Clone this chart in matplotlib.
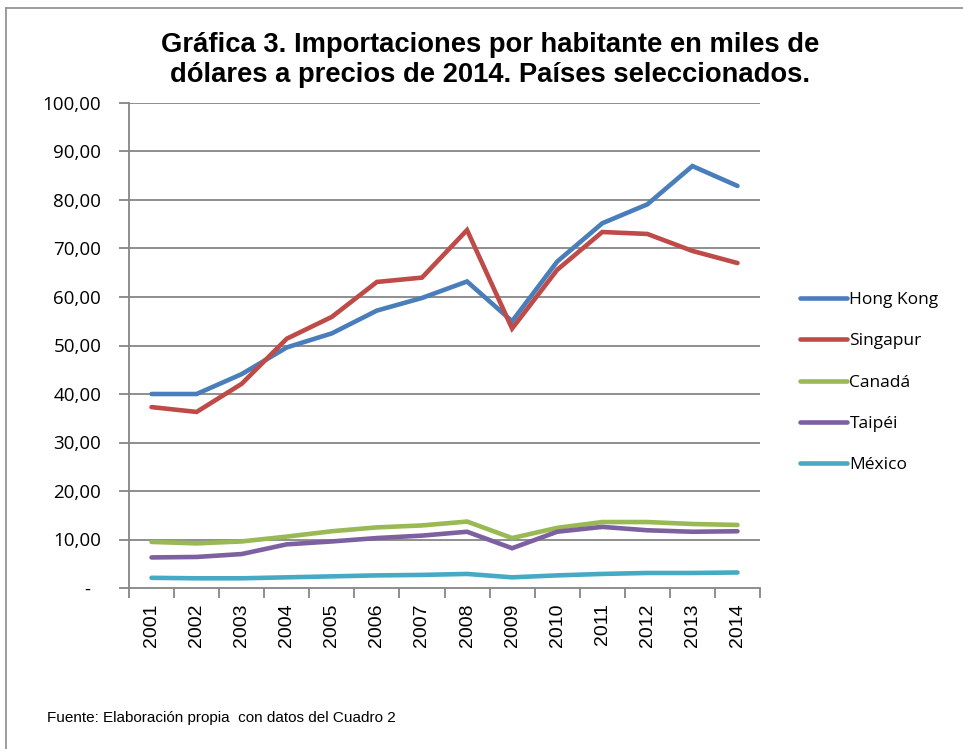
import matplotlib
matplotlib.use("Agg")
import matplotlib.pyplot as plt
from matplotlib.lines import Line2D
import numpy as np

years = ["2001", "2002", "2003", "2004", "2005", "2006", "2007",
         "2008", "2009", "2010", "2011", "2012", "2013", "2014"]
hong_kong = [40.0, 40.0, 44.1, 49.6, 52.5, 57.2, 59.8, 63.2, 55.0, 67.3, 75.2, 79.1, 87.0, 82.9]
singapur = [37.3, 36.3, 42.1, 51.4, 55.9, 63.1, 64.0, 73.8, 53.5, 65.6, 73.4, 73.0, 69.5, 67.0]
canada = [9.5, 9.2, 9.6, 10.6, 11.7, 12.5, 12.9, 13.7, 10.3, 12.4, 13.6, 13.6, 13.2, 13.0]
taipei = [6.3, 6.4, 7.0, 9.0, 9.6, 10.3, 10.8, 11.6, 8.2, 11.6, 12.6, 11.9, 11.6, 11.7]
mexico = [2.1, 2.0, 2.0, 2.2, 2.4, 2.6, 2.7, 2.9, 2.2, 2.6, 2.9, 3.1, 3.1, 3.2]
series_names = ["Hong Kong", "Singapur", "Canadá", "Taipéi", "México"]
series_values = [hong_kong, singapur, canada, taipei, mexico]
series_colors = ["#4A7EBB", "#BE4B48", "#98B954", "#7D60A0", "#46AAC5"]
y_ticks = [0, 10, 20, 30, 40, 50, 60, 70, 80, 90, 100]
y_labels = ["-  ", "10,00", "20,00", "30,00", "40,00", "50,00", "60,00",
            "70,00", "80,00", "90,00", "100,00"]
title = "Gráfica 3. Importaciones por habitante en miles de\ndólares a precios de 2014. Países seleccionados."
source = "Fuente: Elaboración propia  con datos del Cuadro 2"

W, H = 963, 749
fig = plt.figure(figsize=(W / 100, H / 100), dpi=100)
fig.patch.set_facecolor("white")

left, right, top, bottom = 129, 760, 103, 588
ax = fig.add_axes([left / W, 1 - bottom / H, (right - left) / W, (bottom - top) / H])

grid_color = "#868686"
x = np.arange(len(years))
for vals, name, col in zip(series_values, series_names, series_colors):
    ax.plot(x, vals, color=col, lw=3.3, solid_capstyle="round",
            solid_joinstyle="miter", label=name, zorder=3)

ax.set_xlim(-0.5, len(years) - 0.5)
ax.set_ylim(0, 100)
ax.set_yticks(y_ticks)
ax.set_yticklabels(y_labels, fontfamily="Open Sans", fontsize=13.5)
for yv in y_ticks[1:]:
    ax.axhline(yv, color=grid_color, lw=1.3, zorder=1)

ax.set_xticks(np.arange(-0.5, len(years), 1.0))
ax.set_xticklabels([])
ax.set_xticks(x, minor=True)
ax.set_xticklabels(years, minor=True, rotation=90, fontfamily="Liberation Sans",
                   fontsize=14)
ax.tick_params(axis="x", which="major", length=7, color=grid_color, width=1.3, direction="out")
ax.tick_params(axis="x", which="minor", length=0, pad=11)
ax.tick_params(axis="y", length=7, color=grid_color, width=1.3, direction="out", pad=13)

for s in ["top", "right"]:
    ax.spines[s].set_visible(False)
ax.spines["left"].set_color(grid_color)
ax.spines["left"].set_linewidth(1.3)
ax.spines["bottom"].set_color(grid_color)
ax.spines["bottom"].set_linewidth(1.3)

handles = [Line2D([0], [0], color=c, lw=3.3, solid_capstyle="round") for c in series_colors]
leg = fig.legend(handles, series_names, loc="upper left",
                 bbox_to_anchor=(793 / W, 1 - 285 / H), frameon=False,
                 prop={"family": "Open Sans", "size": 12.5}, handlelength=2.7,
                 handletextpad=0.15, labelspacing=1.45, borderaxespad=0)

fig.text(490 / W, 1 - 60 / H, title, ha="center", va="center",
         fontfamily="Liberation Sans", fontweight="bold", fontsize=19.7,
         linespacing=1.25)
fig.text(47 / W, 1 - 718 / H, source, ha="left", va="center",
         fontfamily="Liberation Sans", fontsize=11)

# outer chart border (left and top visible)
fig.add_artist(Line2D([6 / W, 6 / W], [0, 1 - 8 / H], transform=fig.transFigure,
                      color="#8c8c8c", lw=1.2))
fig.add_artist(Line2D([6 / W, 1], [1 - 8 / H, 1 - 8 / H], transform=fig.transFigure,
                      color="#8c8c8c", lw=1.2))

fig.savefig("out.png", dpi=100, facecolor="white")
